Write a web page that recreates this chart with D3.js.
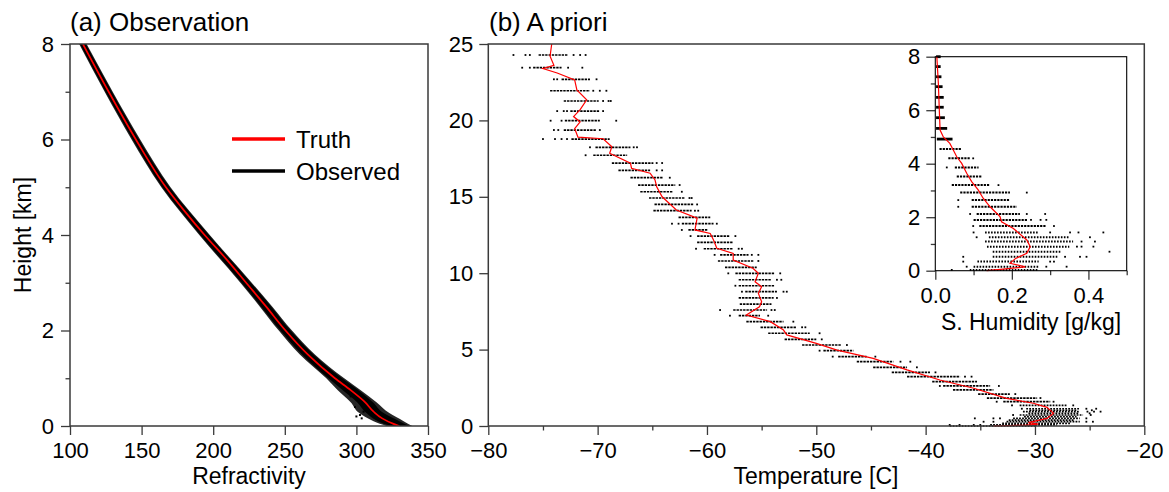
<!DOCTYPE html>
<html>
<head>
<meta charset="utf-8">
<script src="https://cdn.jsdelivr.net/npm/d3@7"></script>
<style>
  html, body { margin: 0; padding: 0; background: #fff; }
  svg { display: block; font-family: "Liberation Sans", Arial, Helvetica, sans-serif; }
</style>
</head>
<body>
<svg id="chart" width="1169" height="492"></svg>
<script>
// (a) refractivity: truth profile + envelope of the observed scatter band
const N_H     = [0, 0.05, 0.16, 0.3, 0.5, 0.75, 1, 1.5, 2, 2.5, 3, 3.5, 4, 4.5, 5, 6, 7, 8];
const N_TRUTH = [330, 325.5, 318, 312, 306, 296, 285, 266, 250.5, 237, 223, 209, 194, 180, 167, 146, 127, 109];
// observed band: dense core and speckled outer edge
const OBS_H       = [0, 0.1, 0.27, 0.5, 0.75, 1, 1.5, 2, 2.5, 3, 4, 5, 6, 7, 8, 8.2];
const OBS_CORE_LO = [324, 315, 307, 300.5, 290.5, 280.5, 262, 247, 233.5, 219.8, 191, 164.5, 143.8, 124.8, 107, 103.5];
const OBS_CORE_HI = [337, 330, 319, 311.5, 301.5, 290, 270, 254, 240.5, 226.2, 197, 169.5, 148.2, 129.2, 111, 107.5];
const OBS_LO      = [321, 312, 302, 296, 287, 279, 260.5, 245.8, 232.6, 219, 190.3, 163.8, 143, 124.2, 106.4, 103];
const OBS_HI      = [339, 333, 323, 314, 303, 291.5, 271, 255, 241.3, 226.9, 197.6, 170.2, 149, 129.8, 111.6, 108];
const OBS_SPECK = [[302.5, 0.23], [303.7, 0.16], [299, 0.4], [305, 0.3], [242, 2.39], [296, 0.62], [300, 0.2]];

// (b) temperature: truth profile and sample rows [height, core lo, core hi, stray points]
const T_H     = [0, 0.05, 0.12, 0.22, 0.5, 0.83, 1.22, 1.49, 1.81, 2.47, 3.01, 3.67, 4.43, 4.97, 5.41, 5.96, 6.28, 6.83, 7.26, 7.8, 8.13, 8.68, 9.12, 9.44, 10.0, 10.32, 10.86, 11.3, 11.63, 12.17, 12.6, 12.83, 13.6, 14.14, 15.0, 15.66, 16.1, 16.54, 16.87, 17.2, 17.85, 18.28, 18.8, 18.9, 19.47, 19.9, 20.25, 20.7, 21.34, 22.0, 22.65, 23.1, 23.4, 23.6, 24.2, 25];
const T_TRUTH = [-33.8, -31.0, -29.7, -30.6, -28.9, -28.3, -28.9, -30.15, -32.6, -35.6, -38.7, -41.7, -44.8, -48.1, -50.0, -52.7, -53.0, -54.2, -56.4, -55.2, -55.0, -55.3, -55.0, -55.6, -55.3, -55.8, -57.6, -57.6, -59.1, -59.4, -59.7, -61.1, -60.9, -62.8, -64.1, -64.6, -64.75, -65.2, -66.9, -67.0, -68.9, -68.7, -69.5, -71.8, -72.1, -71.6, -72.2, -71.6, -71.0, -71.9, -72.1, -73.7, -75.0, -74.0, -74.35, -74.2];
const T_ROWS = [
  [24.28, -75.4, -72.7, [-77.7, -76.6, -76.2, -72.2, -71.6, -71.1]],
  [23.45, -75.9, -73.3, [-76.9, -76.2, -72.7, -71.4]],
  [22.69, -73.3, -70.7, [-74.0, -73.7, -70.1]],
  [21.94, -74.35, -70.7, [-70.4, -69.8, -69.2]],
  [21.27, -73.1, -69.9, [-69.5, -69.0, -68.8]],
  [20.61, -72.5, -69.8, [-73.7, -73.1, -72.8, -69.5]],
  [19.98, -73.0, -69.8, [-74.3, -73.3, -68.3]],
  [19.37, -73.1, -70.1, [-74.0, -73.6, -69.8]],
  [18.78, -72.4, -68.9, [-75.0, -73.9, -73.3, -72.8]],
  [18.24, -70.2, -67.0, [-70.7, -66.7, -66.4]],
  [17.72, -70.4, -67.3, [-71.1]],
  [17.21, -68.7, -64.9, [-64.6, -64.1]],
  [16.73, -68.1, -65.2, [-64.6, -64.1]],
  [16.25, -67.0, -64.0, [-63.4]],
  [15.77, -66.3, -62.9, [-62.5]],
  [15.33, -66.1, -63.1, [-62.3]],
  [14.92, -65.3, -62.0, [-61.6, -61.4]],
  [14.5, -64.8, -61.2, [-60.9]],
  [14.09, -64.9, -61.4, [-61.1, -60.8]],
  [13.66, -62.6, -59.7, []],
  [13.24, -62.3, -59.4, [-63.2, -62.6, -59.1]],
  [12.83, -61.7, -59.9, [-62.3]],
  [12.43, -60.9, -57.9, [-61.5, -57.4]],
  [12.02, -60.9, -57.6, []],
  [11.6, -60.3, -57.6, [-61.0, -57.1, -56.8]],
  [11.2, -58.8, -56.2, [-59.3, -55.9, -55.3]],
  [10.8, -59.0, -55.75, [-55.3]],
  [10.38, -58.35, -55.45, []],
  [9.99, -57.4, -53.8, [-58.05, -53.3]],
  [9.57, -57.1, -54.1, [-53.6, -53.2]],
  [9.18, -57.1, -53.8, [-57.4]],
  [8.79, -56.5, -53.6, [-56.8, -53.0, -52.7]],
  [8.38, -57.1, -53.9, [-53.6]],
  [7.98, -57.0, -54.1, []],
  [7.59, -57.6, -54.5, [-58.8, -54.1, -53.8]],
  [7.22, -57.1, -55.15, [-57.9, -54.4]],
  [6.83, -56.4, -53.0, [-52.1]],
  [6.46, -55.1, -51.8, [-51.3, -51.0]],
  [6.07, -54.4, -50.6, [-49.7]],
  [5.67, -52.9, -50.0, [-49.5]],
  [5.3, -51.3, -47.7, [-47.2]],
  [4.93, -49.35, -46.6, [-49.7]],
  [4.54, -48.0, -45.4, [-48.5, -44.6]],
  [4.21, -46.3, -42.95, [-42.3, -41.4]],
  [3.84, -44.8, -41.7, [-40.8]],
  [3.51, -43.1, -39.6, [-39.1]],
  [3.23, -41.7, -36.85, [-36.4, -35.8]],
  [2.9, -39.4, -35.3, []],
  [2.62, -38.4, -34.1, [-38.7, -33.3]],
  [2.36, -37.5, -33.8, []],
  [2.09, -35.2, -32.3, [-31.8]],
  [1.83, -34.4, -29.8, [-29.5]],
  [1.59, -32.9, -28.6, [-33.5, -28.3]],
  [1.35, -31.4, -27.1, [-32.1, -26.5]],
  [1.13, -30.8, -25.9, [-31.2, -25.3, -24.4]],
  [1.03, -30.5, -26.2, [-24.8]],
  [0.94, -31.1, -25.9, [-25.2, -24.6, -24.0]],
  [0.83, -30.6, -26.0, [-25.0]],
  [0.72, -31.4, -25.6, [-32.0, -24.9]],
  [0.61, -31.0, -26.2, []],
  [0.5, -32.0, -25.9, [-35.5, -33.8, -33.2, -25.3]],
  [0.39, -32.4, -26.4, []],
  [0.28, -32.6, -25.9, [-34.7, -33.8, -25.3, -24.7]],
  [0.17, -33.0, -26.8, []],
  [0.07, -34.1, -28.0, [-37.8, -36.9, -35.6, -35.0]],
  [0.0, -37.8, -29.9, []]
];

// inset: specific humidity
const Q_H     = [0, 0.05, 0.14, 0.28, 0.46, 0.65, 0.9, 1.15, 1.58, 1.83, 2.02, 2.39, 2.71, 3.02, 3.33, 3.64, 4.01, 4.26, 4.51, 4.76, 5.0, 5.26, 6.0, 7.0, 8.0];
const Q_TRUTH = [0.134, 0.17, 0.235, 0.195, 0.21, 0.239, 0.248, 0.239, 0.204, 0.173, 0.169, 0.143, 0.125, 0.112, 0.095, 0.082, 0.069, 0.056, 0.047, 0.038, 0.021, 0.0125, 0.0105, 0.008, 0.004];
const Q_ROWS = [
  [8.0, 0.002, 0.014, []], [7.63, 0.002, 0.014, []], [7.25, 0.002, 0.016, []],
  [6.88, 0.002, 0.019, []], [6.48, 0.002, 0.022, []], [6.11, 0.002, 0.022, []],
  [5.72, 0.002, 0.025, []], [5.32, 0.002, 0.031, []], [4.92, 0.004, 0.045, []],
  [4.55, 0.011, 0.069, []], [4.2, 0.034, 0.09, [0.099]], [3.86, 0.051, 0.113, [0.03]],
  [3.52, 0.056, 0.121, []], [3.2, 0.043, 0.143, [0.165]], [2.92, 0.065, 0.195, [0.239]],
  [2.64, 0.095, 0.195, [0.06]], [2.39, 0.095, 0.213, [0.06]],
  [2.12, 0.108, 0.221, [0.091, 0.239, 0.287]], [1.9, 0.1, 0.24, [0.25, 0.275, 0.29]],
  [1.67, 0.115, 0.29, [0.099, 0.31]], [1.43, 0.13, 0.27, [0.1, 0.3, 0.352, 0.374, 0.439]],
  [1.25, 0.14, 0.35, [0.108, 0.404]], [1.09, 0.13, 0.36, [0.382, 0.417]],
  [0.9, 0.135, 0.35, [0.37, 0.382, 0.413]], [0.71, 0.15, 0.33, [0.455]],
  [0.52, 0.15, 0.32, [0.073, 0.339, 0.378, 0.395]], [0.34, 0.11, 0.27, [0.073, 0.3, 0.31]],
  [0.15, 0.1, 0.27, [0.082, 0.29, 0.343]], [0.03, 0.09, 0.27, [0.043]]
];

const LEGEND = [["Truth", "#ff0000"], ["Observed", "#000"]];

const FONT = '"Liberation Sans", Arial, Helvetica, sans-serif';
const AXIS_COL = "#3a3a3a";
const svg = d3.select("#chart");

// shared axis helper: major ticks with labels, optional minor ticks, all outward
function drawAxes(g, x, y, o) {
  const x0 = x.range()[0], y0 = y.range()[0];
  const bx = g.append("g").attr("transform", `translate(0,${y0})`)
    .call(d3.axisBottom(x).tickValues(o.xMajor).tickSize(9).tickPadding(o.xPad || 7)
      .tickSizeOuter(0).tickFormat(o.xFmt));
  const ly = g.append("g").attr("transform", `translate(${x0},0)`)
    .call(d3.axisLeft(y).tickValues(o.yMajor).tickSize(9).tickPadding(o.yPad || 7)
      .tickSizeOuter(0).tickFormat(d3.format("d")));
  if (o.xMinor) g.append("g").attr("transform", `translate(0,${y0})`)
    .call(d3.axisBottom(x).tickValues(o.xMinor).tickSize(4.5).tickSizeOuter(0).tickFormat(""));
  if (o.yMinor) g.append("g").attr("transform", `translate(${x0},0)`)
    .call(d3.axisLeft(y).tickValues(o.yMinor).tickSize(4.5).tickSizeOuter(0).tickFormat(""));
  g.selectAll(".domain").remove();
  g.selectAll(".tick line").attr("stroke", AXIS_COL).attr("stroke-width", 1.3);
  [bx, ly].forEach(a => a.attr("font-family", FONT).attr("font-size", 22)
    .selectAll("text").attr("fill", "#000"));
  // frame
  g.append("rect")
    .attr("x", x0).attr("y", y.range()[1])
    .attr("width", x.range()[1] - x0).attr("height", y0 - y.range()[1])
    .attr("fill", "none").attr("stroke", o.frame || AXIS_COL).attr("stroke-width", o.frameW || 1.5);
}

// one sample row = dotted core segment + a few loose dots
function drawRows(g, rows, x, y, sw, dash) {
  rows.forEach(([h, lo, hi, extra]) => {
    g.append("line")
      .attr("x1", x(lo)).attr("x2", x(hi)).attr("y1", y(h)).attr("y2", y(h))
      .attr("stroke", "#000").attr("stroke-width", sw(h)).attr("stroke-dasharray", dash(h));
    extra.forEach(v => g.append("rect")
      .attr("x", x(v) - 0.9).attr("y", y(h) - 0.9).attr("width", 1.8).attr("height", 1.8)
      .attr("fill", "#000"));
  });
}

// ---------- panel (a) ----------
const xa = d3.scaleLinear().domain([100, 350]).range([70, 428]);
const ya = d3.scaleLinear().domain([0, 8]).range([426, 44]);
const ga = svg.append("g");
svg.append("clipPath").attr("id", "clipA").append("rect")
  .attr("x", 70).attr("y", 44).attr("width", 358).attr("height", 382);
const gaData = ga.append("g").attr("clip-path", "url(#clipA)");

const band = (lo, hi) => OBS_H.map((h, i) => ({ h, lo: lo[i], hi: hi[i] }));
const bandArea = d3.area().curve(d3.curveMonotoneY)
  .y(d => ya(d.h)).x0(d => xa(d.lo)).x1(d => xa(d.hi));
gaData.append("path").datum(band(OBS_LO, OBS_HI)).attr("d", bandArea)
  .attr("fill", "#000").attr("opacity", 0.85);
gaData.append("path").datum(band(OBS_CORE_LO, OBS_CORE_HI)).attr("d", bandArea)
  .attr("fill", "#000");
gaData.selectAll("rect.speck").data(OBS_SPECK).enter().append("rect")
  .attr("class", "speck")
  .attr("x", d => xa(d[0]) - 1).attr("y", d => ya(d[1]) - 1)
  .attr("width", 2).attr("height", 2).attr("fill", "#000");
gaData.append("path").datum(N_H.map((h, i) => [N_TRUTH[i], h]))
  .attr("d", d3.line().curve(d3.curveMonotoneY).x(d => xa(d[0])).y(d => ya(d[1])))
  .attr("fill", "none").attr("stroke", "#ff0000").attr("stroke-width", 1.7);

drawAxes(ga, xa, ya, {
  xMajor: [100, 150, 200, 250, 300, 350], xFmt: d3.format("d"),
  yMajor: [0, 2, 4, 6, 8], yMinor: [1, 3, 5, 7]
});

ga.append("text").attr("x", 70).attr("y", 31).attr("font-size", 26).attr("font-family", FONT)
  .text("(a) Observation");
ga.append("text").attr("x", 249).attr("y", 484).attr("text-anchor", "middle")
  .attr("font-size", 23).attr("font-family", FONT).text("Refractivity");
ga.append("text").attr("transform", "translate(31,235) rotate(-90)").attr("text-anchor", "middle")
  .attr("font-size", 23).attr("font-family", FONT).text("Height [km]");

// legend
const lg = ga.append("g").attr("transform", "translate(232,139)");
LEGEND.forEach(([name, col], i) => {
  lg.append("line").attr("x1", 0).attr("x2", 53).attr("y1", i * 32).attr("y2", i * 32)
    .attr("stroke", col).attr("stroke-width", 3.3);
  lg.append("text").attr("x", 64).attr("y", i * 32 + 9).attr("font-size", 24)
    .attr("font-family", FONT).text(name);
});

// ---------- panel (b) ----------
const xb = d3.scaleLinear().domain([-80, -20]).range([488.3, 1144.3]);
const yb = d3.scaleLinear().domain([0, 25]).range([426, 44]);
const gb = svg.append("g");
drawRows(gb.append("g"), T_ROWS, xb, yb, () => 1.7, h => h < 1.4 ? "1.8,1.2" : "2.4,0.9");
gb.append("path").datum(T_H.map((h, i) => [T_TRUTH[i], h]))
  .attr("d", d3.line().x(d => xb(d[0])).y(d => yb(d[1])))
  .attr("fill", "none").attr("stroke", "#ff0000").attr("stroke-width", 1.2);

drawAxes(gb, xb, yb, {
  xMajor: [-80, -70, -60, -50, -40, -30, -20], xFmt: d3.format("d"),
  xMinor: [-75, -65, -55, -45, -35, -25],
  yMajor: [0, 5, 10, 15, 20, 25], yPad: 6
});
gb.append("text").attr("x", 489).attr("y", 31).attr("font-size", 26).attr("font-family", FONT)
  .text("(b) A priori");
gb.append("text").attr("x", 816).attr("y", 484).attr("text-anchor", "middle")
  .attr("font-size", 23).attr("font-family", FONT).text("Temperature [C]");

// ---------- inset ----------
const xq = d3.scaleLinear().domain([0, 0.5]).range([935.3, 1126.7]);
const yq = d3.scaleLinear().domain([0, 8]).range([270.7, 56.7]);
const gq = svg.append("g");
gq.append("rect").attr("x", 935.3).attr("y", 56.7).attr("width", 191.4).attr("height", 214)
  .attr("fill", "#fff");
drawRows(gq.append("g"), Q_ROWS, xq, yq,
  h => h > 4.8 ? 2.8 : 2, h => h > 4.8 ? "none" : (h < 1.5 ? "1.6,1.4" : "2.2,1"));
gq.append("path").datum(Q_H.map((h, i) => [Q_TRUTH[i], h]))
  .attr("d", d3.line().x(d => xq(d[0])).y(d => yq(d[1])))
  .attr("fill", "none").attr("stroke", "#ff0000").attr("stroke-width", 1.2);
drawAxes(gq, xq, yq, {
  xMajor: [0, 0.2, 0.4], xFmt: d3.format(".1f"), xMinor: [0.1, 0.3, 0.5], xPad: 8,
  yMajor: [0, 2, 4, 6, 8], yMinor: [1, 3, 5, 7], yPad: 6,
  frame: "#000", frameW: 1.1
});
gq.append("text").attr("x", 1031).attr("y", 330).attr("text-anchor", "middle")
  .attr("font-size", 23).attr("font-family", FONT).text("S. Humidity [g/kg]");
</script>
</body>
</html>
